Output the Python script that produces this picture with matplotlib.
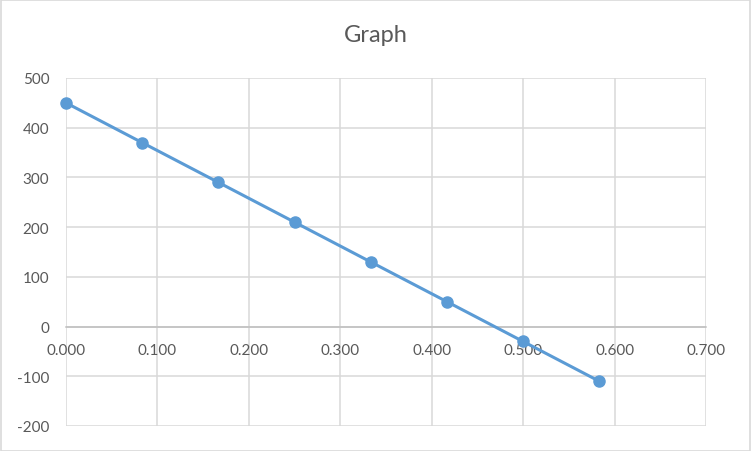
import matplotlib
matplotlib.use("Agg")
import matplotlib.pyplot as plt
from matplotlib.patches import Rectangle

# data
x_vals = [0.0, 0.0833, 0.1667, 0.25, 0.3333, 0.4167, 0.5, 0.5833]
y_vals = [450, 370, 290, 210, 130, 50, -30, -110]
x_ticks = [0.0, 0.1, 0.2, 0.3, 0.4, 0.5, 0.6, 0.7]
y_ticks = [-200, -100, 0, 100, 200, 300, 400, 500]

plt.rcParams['font.family'] = ['Lato', 'DejaVu Sans']
text_col = '#595959'
grid_col = '#d9d9d9'

fig = plt.figure(figsize=(7.52, 4.52), dpi=100)
ax = fig.add_axes([66 / 752, 1 - 427 / 452, 640 / 752, 348 / 452])

ax.plot(x_vals, y_vals, color='#5b9bd5', lw=2.2, marker='o', ms=8,
        zorder=3, clip_on=False)

ax.set_xlim(0, 0.7)
ax.set_ylim(-200, 500)
ax.set_xticks(x_ticks)
ax.set_yticks(y_ticks)
ax.set_xticklabels([f'{v:.3f}' for v in x_ticks])
ax.set_yticklabels([str(v) for v in y_ticks])
ax.grid(True, color=grid_col, lw=1.1)
ax.set_axisbelow(True)

for s in ['top', 'right', 'left']:
    ax.spines[s].set_visible(False)
ax.spines['bottom'].set_position(('data', 0))
ax.spines['bottom'].set_color('#bfbfbf')
ax.spines['bottom'].set_linewidth(1.1)

ax.tick_params(axis='x', length=0, pad=12, labelsize=11, labelcolor=text_col)
ax.tick_params(axis='y', length=0, pad=12, labelsize=11, labelcolor=text_col)

fig.text(0.5, 1 - 36 / 452, 'Graph', ha='center', va='center',
         fontsize=17, color=text_col)

# light frame around the chart area
fig.patches.append(Rectangle((0.001, 0.001), 0.997, 0.997, transform=fig.transFigure,
                             fill=False, edgecolor=grid_col, lw=1.2))

fig.savefig('out.png', dpi=100)
